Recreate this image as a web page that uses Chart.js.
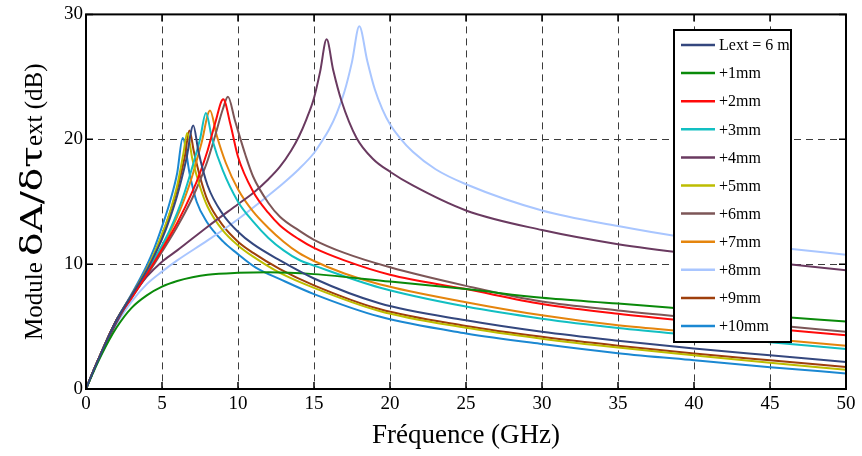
<!DOCTYPE html>
<html>
<head>
<meta charset="utf-8">
<script src="https://cdn.jsdelivr.net/npm/chart.js@4.4.1/dist/chart.umd.min.js"></script>
<style>
  html, body { margin: 0; padding: 0; background: #fff; }
</style>
</head>
<body>
<canvas id="myChart" width="862" height="456"></canvas>
<script>
// legend labels and line colours
const seriesLabels = ['Lext = 6 m', '+1mm', '+2mm', '+3mm', '+4mm', '+5mm', '+6mm', '+7mm', '+8mm', '+9mm', '+10mm'];
const seriesColors = ['#34477e', '#0a8a0a', '#ff0a0a', '#12bfc2', '#6a3a60', '#bdbd00', '#7d5657', '#e5850d', '#a9c6ff', '#9e3f0c', '#1b88d2'];
const xTicks = [0, 5, 10, 15, 20, 25, 30, 35, 40, 45, 50];
const yTicks = [0, 10, 20, 30];

// [frequency (GHz), module (dB)]
const lext = [[0,0],[0.5,1.5],[1,2.9],[2,5.5],[3,7.5],[4,9.5],[4.5,10.7],[5,12.0],[5.5,13.6],[6,15.5],[6.6,18.4],[7.06,21.1],[7.4,19.0],[8,16.3],[9,14.0],[10,12.6],[11,11.6],[12.76,10.3],[15,8.85],[19.3,6.87],[25,5.5],[30,4.58],[35,3.87],[40,3.25],[45,2.7],[50,2.16]];
const mm1 = [[0,0],[0.5,1.4],[1,2.7],[2,4.9],[3,6.5],[4,7.5],[5,8.2],[6,8.65],[7,8.95],[8,9.15],[10,9.3],[12,9.35],[15,9.2],[20,8.6],[25,8.0],[30,7.3],[35,6.85],[40,6.35],[45,5.85],[50,5.4]];
const mm2 = [[0,0],[0.5,1.5],[1,2.9],[2,5.5],[3,7.3],[4,9.2],[5,11.2],[6,13.3],[7,15.8],[7.5,17.3],[8,19.1],[8.5,21.3],[9.03,23.2],[9.5,21.2],[10,18.6],[11,15.8],[12,14.1],[12.76,13.1],[14,12.0],[15,11.3],[17,10.3],[20,9.15],[25,8.0],[30,6.81],[35,6.02],[40,5.4],[45,4.85],[50,4.3]];
const mm3 = [[0,0],[0.5,1.5],[1,2.9],[2,5.5],[3,7.4],[4,9.4],[5,11.5],[5.5,12.7],[6,14.1],[6.5,15.8],[7,17.8],[7.5,20.0],[7.89,22.1],[8.3,20.0],[9,17.5],[10,15.0],[11,13.4],[12,12.1],[13,11.1],[14,10.35],[15.2,9.8],[19.3,8.13],[25,6.6],[30,5.63],[35,4.89],[40,4.3],[45,3.75],[50,3.2]];
const mm4 = [[0,0],[0.5,1.5],[1,2.8],[2,5.3],[3,7.4],[4,9.0],[5,10.2],[6,11.1],[8,13.0],[10,14.8],[11,15.7],[12,16.8],[12.76,17.8],[13.5,19.1],[14,20.2],[14.5,21.6],[15,23.3],[15.4,25.4],[15.83,28.0],[16.27,25.5],[16.8,23.1],[17.8,20.1],[18.9,18.4],[20,17.4],[21.5,16.3],[25,14.3],[30,12.73],[35,11.6],[40,10.8],[45,10.15],[50,9.5]];
const mm5 = [[0,0],[0.5,1.5],[1,2.9],[2,5.5],[3,7.5],[4,9.6],[4.5,10.9],[5,12.4],[5.5,14.1],[6,16.3],[6.4,18.8],[6.66,20.5],[7.0,18.4],[7.5,16.2],[8,14.6],[9,12.7],[10,11.5],[11,10.6],[12.76,9.3],[15,8.1],[19.3,6.25],[25,4.9],[30,4.03],[35,3.32],[40,2.7],[45,2.1],[50,1.55]];
const mm6 = [[0,0],[0.5,1.5],[1,2.9],[2,5.5],[3,7.3],[4,9.1],[5,11.0],[6,13.0],[7,15.3],[7.5,16.7],[8,18.3],[8.5,20.3],[9.0,22.4],[9.34,23.4],[9.8,21.5],[10.5,18.7],[11,17.0],[12,14.9],[12.76,13.8],[14,12.7],[15,11.95],[17,10.9],[20,9.75],[25,8.26],[30,7.0],[35,6.29],[40,5.7],[45,5.15],[50,4.58]];
const mm7 = [[0,0],[0.5,1.5],[1,2.9],[2,5.5],[3,7.4],[4,9.4],[5,11.4],[5.5,12.5],[6,13.8],[6.5,15.3],[7,17.1],[7.6,19.7],[8.16,22.3],[8.6,20.3],[9.2,18.1],[10,16.0],[11,14.2],[12,12.9],[13,11.8],[14,10.9],[15,10.25],[17,9.25],[19.3,8.39],[25,6.95],[30,5.9],[35,5.1],[40,4.55],[45,4.0],[50,3.47]];
const mm8 = [[0,0],[0.5,1.4],[1,2.7],[2,5.2],[3,7.0],[4,8.4],[5,9.4],[6,10.3],[8,11.9],[10,13.6],[12,15.5],[13,16.5],[14,17.6],[15,18.9],[15.5,19.8],[16,20.8],[16.5,22.1],[17,23.8],[17.5,26.2],[17.98,29.05],[18.5,26.3],[19,24.0],[19.5,22.4],[20,21.2],[20.66,20.1],[21.5,19.0],[23,17.6],[25,16.4],[30,14.3],[35,13.05],[38.6,12.3],[45,11.4],[50,10.76]];
const mm9 = [[0,0],[0.5,1.5],[1,2.9],[2,5.5],[3,7.5],[4,9.6],[4.5,10.8],[5,12.3],[5.5,14.0],[6,16.0],[6.5,18.6],[6.8,20.7],[7.1,19.0],[7.5,17.0],[8,15.1],[9,13.1],[10,11.8],[11,10.9],[12.76,9.6],[15,8.3],[19.3,6.4],[25,5.05],[30,4.18],[35,3.47],[40,2.85],[45,2.3],[50,1.76]];
const mm10 = [[0,0],[0.5,1.5],[1,2.9],[2,5.5],[3,7.6],[4,9.9],[4.5,11.3],[5,13.0],[5.5,14.9],[6,17.3],[6.36,20.1],[6.84,17.1],[7.28,15.0],[7.94,13.4],[9.03,11.8],[9.9,10.9],[11.2,9.7],[12.76,8.8],[15,7.6],[19.3,5.8],[25,4.45],[30,3.6],[35,2.87],[40,2.3],[45,1.75],[50,1.25]];

const allSeries = [lext, mm1, mm2, mm3, mm4, mm5, mm6, mm7, mm8, mm9, mm10];

const serif = 'Liberation Serif, "DejaVu Serif", serif';

// box, inward ticks, y title and legend box
const decor = {
  id: 'decor',
  afterDraw(chart) {
    const ctx = chart.ctx;
    const a = chart.chartArea;
    const xs = chart.scales.x, ys = chart.scales.y;
    ctx.save();
    ctx.strokeStyle = '#000';
    ctx.lineWidth = 1.5;
    ctx.beginPath();
    xTicks.forEach(t => {
      const px = xs.getPixelForValue(t);
      ctx.moveTo(px, a.bottom); ctx.lineTo(px, a.bottom - 7);
      ctx.moveTo(px, a.top); ctx.lineTo(px, a.top + 7);
    });
    yTicks.forEach(t => {
      const py = ys.getPixelForValue(t);
      ctx.moveTo(a.left, py); ctx.lineTo(a.left + 7, py);
      ctx.moveTo(a.right, py); ctx.lineTo(a.right - 7, py);
    });
    ctx.stroke();
    ctx.lineWidth = 2;
    ctx.strokeRect(a.left, a.top, a.right - a.left, a.bottom - a.top);

    // y axis title, Greek part drawn wider
    ctx.translate(42, (a.top + a.bottom) / 2);
    ctx.rotate(-Math.PI / 2);
    ctx.fillStyle = '#000';
    ctx.textBaseline = 'alphabetic';
    const normal = '25px ' + serif;
    const greek = '30px "DejaVu Serif", serif';
    const stretch = 1.3;
    const parts = [['Module ', normal, 1], ['δA/δτ', greek, stretch], ['ext (dB)', normal, 1]];
    let total = 0;
    parts.forEach(p => { ctx.font = p[1]; total += ctx.measureText(p[0]).width * p[2]; });
    let tx = -total / 2;
    parts.forEach(p => {
      ctx.font = p[1];
      ctx.save();
      ctx.translate(tx, 0);
      ctx.scale(p[2], 1);
      ctx.fillText(p[0], 0, 0);
      ctx.restore();
      tx += ctx.measureText(p[0]).width * p[2];
    });
    ctx.restore();

    // legend
    ctx.save();
    const lx = 674, ly = 30, lw = 117, lh = 312;
    ctx.fillStyle = '#fff';
    ctx.fillRect(lx, ly, lw, lh);
    ctx.strokeStyle = '#000';
    ctx.lineWidth = 2;
    ctx.strokeRect(lx, ly, lw, lh);
    ctx.font = '16px ' + serif;
    ctx.textBaseline = 'middle';
    chart.data.datasets.forEach((ds, i) => {
      const y = ly + 15 + i * 28.1;
      ctx.strokeStyle = ds.borderColor;
      ctx.lineWidth = 2.5;
      ctx.beginPath();
      ctx.moveTo(lx + 7, y); ctx.lineTo(lx + 41, y);
      ctx.stroke();
      ctx.fillStyle = '#000';
      ctx.fillText(ds.label, lx + 45, y + 1);
    });
    ctx.restore();
  }
};

const ctx = document.getElementById('myChart').getContext('2d');
const chart = new Chart(ctx, {
  type: 'line',
  data: {
    datasets: allSeries.map((s, i) => ({
      label: seriesLabels[i],
      data: s.map(p => ({ x: p[0], y: p[1] })),
      borderColor: seriesColors[i],
      backgroundColor: seriesColors[i],
      borderWidth: 2,
      pointRadius: 0,
      cubicInterpolationMode: 'monotone',
      fill: false,
    }))
  },
  options: {
    responsive: false,
    animation: false,
    layout: { padding: { left: 0, right: 16, top: 13, bottom: 4 } },
    plugins: { legend: { display: false }, tooltip: { enabled: false } },
    scales: {
      x: {
        type: 'linear',
        min: 0,
        max: 50,
        afterBuildTicks: s => { s.ticks = xTicks.map(v => ({ value: v })); },
        afterFit: s => { s.height = 63; },
        ticks: { color: '#000', font: { family: serif, size: 19 }, padding: 4, maxRotation: 0, autoSkip: false },
        grid: { color: '#3c3c3c', lineWidth: 1, drawTicks: false },
        border: { display: false, dash: [7, 5] },
        title: { display: true, text: 'Fréquence (GHz)', color: '#000', font: { family: serif, size: 27 }, padding: { top: 0, bottom: 0 } }
      },
      y: {
        min: 0,
        max: 30,
        afterBuildTicks: s => { s.ticks = yTicks.map(v => ({ value: v })); },
        afterFit: s => { s.width = 86; },
        ticks: { color: '#000', font: { family: serif, size: 19 }, padding: 3 },
        grid: { color: '#3c3c3c', lineWidth: 1, drawTicks: false },
        border: { display: false, dash: [7, 5] }
      }
    }
  },
  plugins: [decor]
});
</script>
</body>
</html>
